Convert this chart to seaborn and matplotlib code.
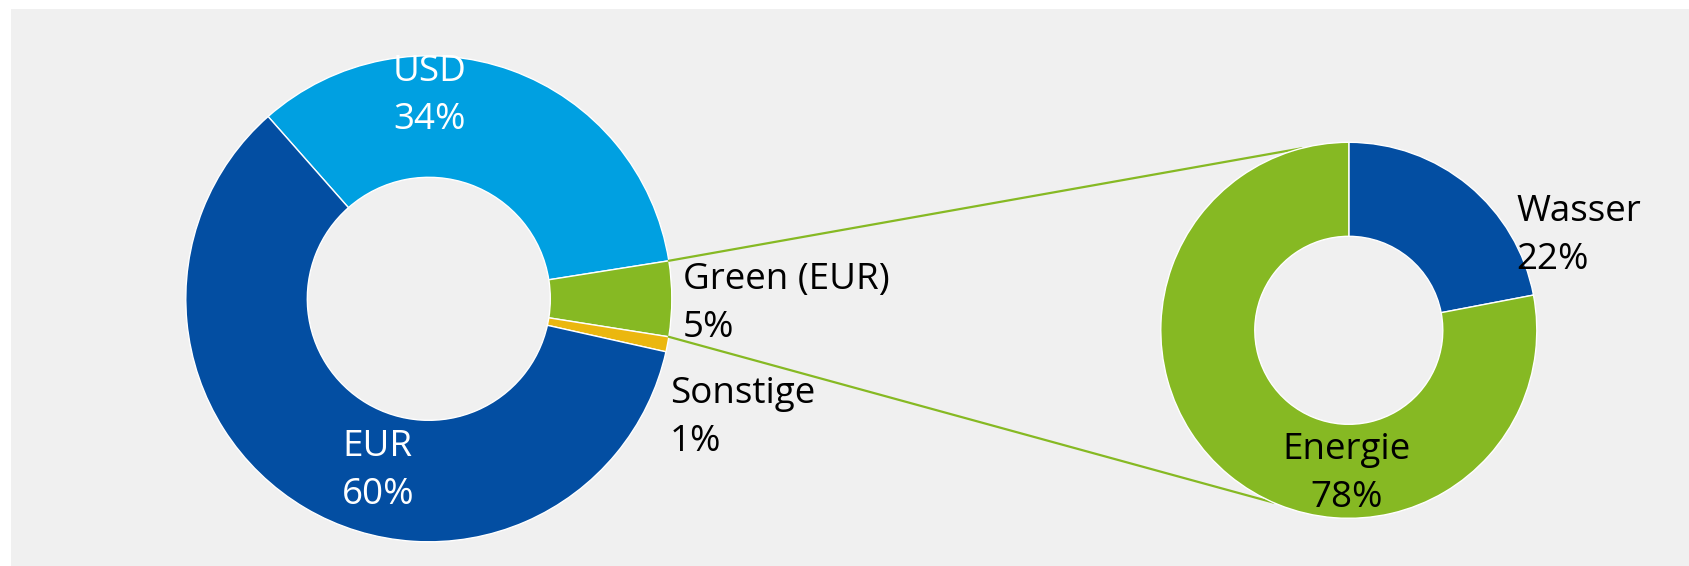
import numpy as np
import seaborn as sns
import matplotlib.pyplot as plt
from matplotlib.patches import Rectangle, ConnectionPatch

# data
currencies = ['USD', 'Green (EUR)', 'Sonstige', 'EUR']
currency_share = [34, 5, 1, 60]
green_use = ['Wasser', 'Energie']
green_share = [22, 78]

dark_blue = '#034ea2'
light_blue = '#00a0e1'
green = '#86b923'
yellow = '#ebb70f'
bg = '#f0f0f0'

sns.set_style('white')
plt.rcParams['font.family'] = ['Open Sans', 'DejaVu Sans']

W, H = 1690, 566
fig = plt.figure(figsize=(W / 100, H / 100), dpi=100)
fig.patch.set_facecolor('white')
fig.add_artist(Rectangle((11 / W, 0), 1 - 11 / W, (H - 9) / H,
                         transform=fig.transFigure, facecolor=bg,
                         edgecolor='none', zorder=-10))

# left donut: center (428.8, 298.8) px, r = 243
r1 = 243
ax1 = fig.add_axes([(428.8 - r1) / W, (H - 298.8 - r1) / H, 2 * r1 / W, 2 * r1 / H])
# rotate so the green slice sits centred on the right-hand side
start1 = 360 * (currency_share[0] + currency_share[1] / 2) / sum(currency_share)
wedges1, _ = ax1.pie(currency_share, colors=[light_blue, green, yellow, dark_blue],
                     startangle=start1, counterclock=False, radius=1,
                     wedgeprops=dict(width=0.5, edgecolor='white', linewidth=1))

# right donut: center (1348.8, 330.3) px, r = 188
r2 = 188
ax2 = fig.add_axes([(1348.8 - r2) / W, (H - 330.3 - r2) / H, 2 * r2 / W, 2 * r2 / H])
wedges2, _ = ax2.pie(green_share, colors=[dark_blue, green], startangle=90,
                     counterclock=False, radius=1,
                     wedgeprops=dict(width=0.5, edgecolor='white', linewidth=1))

for ax in (ax1, ax2):
    ax.set_xlim(-1, 1)
    ax.set_ylim(-1, 1)
    ax.set_facecolor('none')
    ax.axis('off')

fs = 26.5
ls = 1.45
lab = [f'{c}\n{v}%' for c, v in zip(currencies, currency_share)]
ax1.text(0.005, 0.835, lab[0], color='white', fontsize=fs, ha='center', va='center', linespacing=ls)
ax1.text(1.046, -0.02, lab[1], color='black', fontsize=fs, ha='left', va='center', linespacing=ls)
ax1.text(0.993, -0.49, lab[2], color='black', fontsize=fs, ha='left', va='center', linespacing=ls)
ax1.text(-0.21, -0.71, lab[3], color='white', fontsize=fs, ha='center', va='center', linespacing=ls)

lab2 = [f'{c}\n{v}%' for c, v in zip(green_use, green_share)]
ax2.text(0.893, 0.50, lab2[0], color='black', fontsize=fs, ha='left', va='center', linespacing=ls)
ax2.text(-0.01, -0.765, lab2[1], color='black', fontsize=fs, ha='center', va='center', linespacing=ls)

# connector lines from the green slice to the breakdown donut
g = wedges1[1]
lo, hi = sorted([g.theta1, g.theta2])
for t1, t2 in [(hi, 104.5), (lo, 246.4)]:
    a, b = np.radians(t1), np.radians(t2)
    con = ConnectionPatch(xyA=(np.cos(a), np.sin(a)), coordsA=ax1.transData,
                          xyB=(np.cos(b), np.sin(b)), coordsB=ax2.transData,
                          color=green, linewidth=1.6, zorder=0.5)
    con.set_clip_on(False)
    ax2.add_artist(con)

fig.savefig('out.png', dpi=100, facecolor=fig.get_facecolor())
